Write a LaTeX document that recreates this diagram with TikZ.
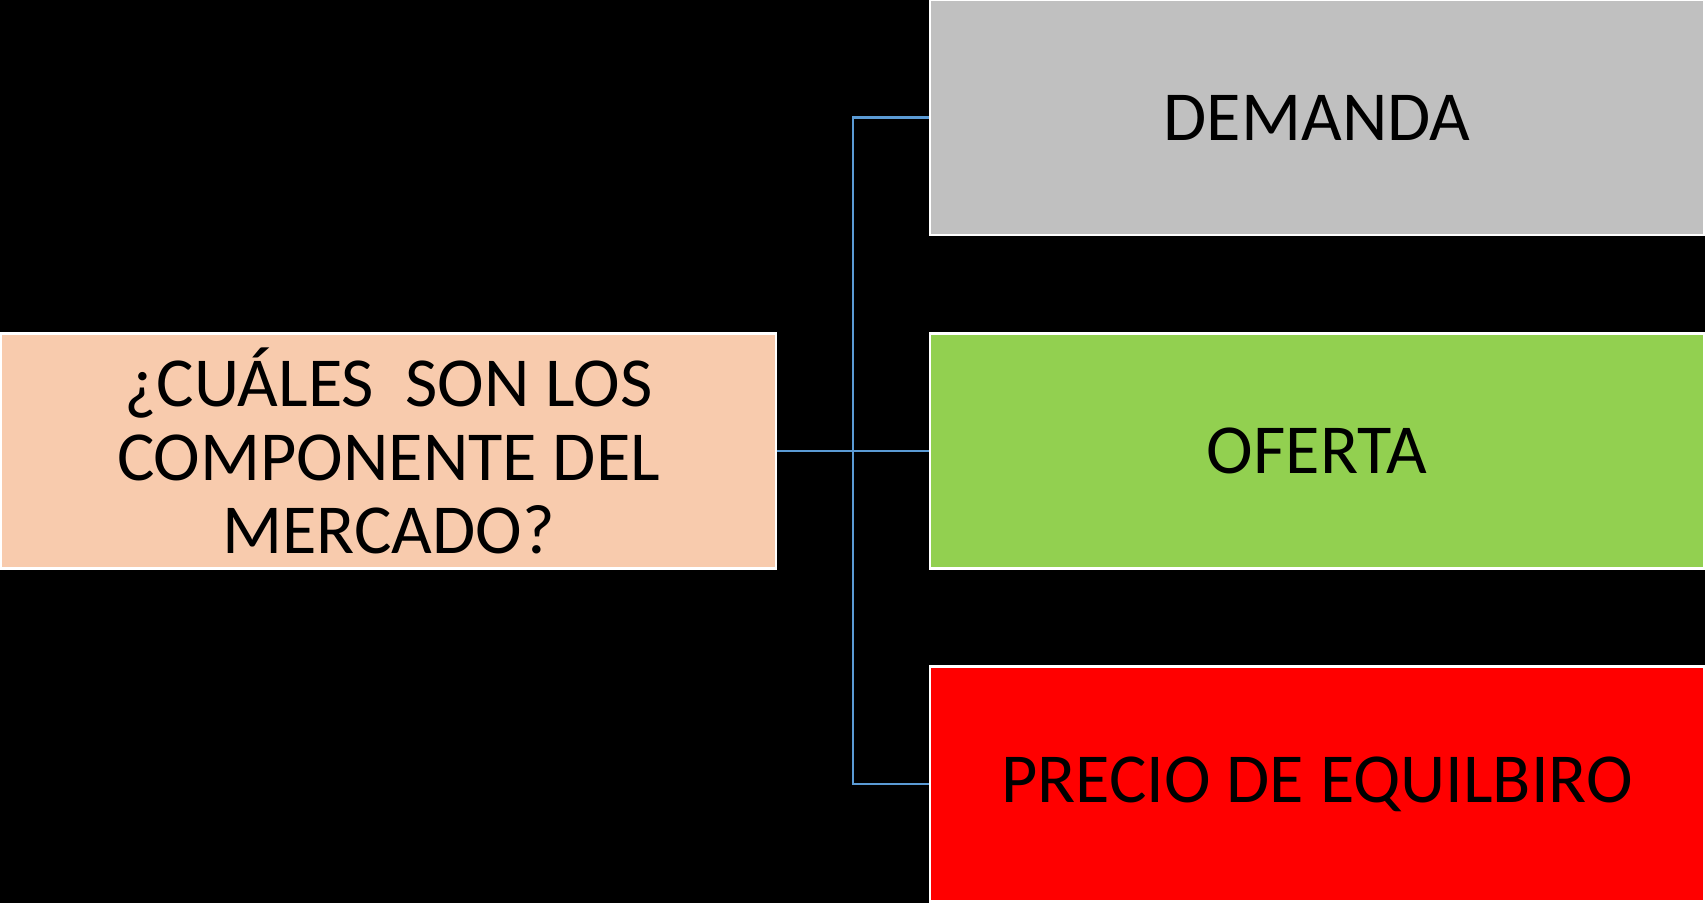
\documentclass[tikz,border=0pt]{standalone}
\usepackage{fontspec}
\setmainfont{Carlito}
\usetikzlibrary{calc}
\usepackage{xcolor}
\definecolor{QuestionColor}{HTML}{F8CBAD}
\definecolor{DemandColor}{HTML}{C0C0C0}
\definecolor{SupplyColor}{HTML}{92D050}
\definecolor{PriceColor}{HTML}{FF0000}
\definecolor{LinkColor}{HTML}{5B9BD5}
\newcommand{\XLeft}{388.5}
\newcommand{\XRight}{1317}
\newcommand{\XSpine}{853}
\newcommand{\BoxWidth}{15.5cm}
\newcommand{\BoxHeight}{4.7cm}

\begin{document}
\begin{tikzpicture}[
  x=0.02cm, y=-0.02cm,
  box/.style={rectangle,draw=white,line width=1.2pt,minimum width=\BoxWidth,
    minimum height=\BoxHeight,inner sep=0pt,font=\fontsize{40}{42}\selectfont,
    align=center,text=black},
  link/.style={draw=LinkColor,line width=1.3pt}
]

% Background
\fill[black] (0,0) rectangle (1705,903);
\useasboundingbox (0,0) rectangle (1705,903);

% Boxes
\node[box,fill=QuestionColor] (question) at (\XLeft,451)
  {¿CUÁLES\ \ SON LOS\\COMPONENTE DEL\\MERCADO?};
\node[box,fill=DemandColor] (demand) at (\XRight,117.5) {DEMANDA};
\node[box,fill=SupplyColor] (supply) at (\XRight,451) {OFERTA};
\node[box,fill=PriceColor] (price) at (\XRight,784) {PRECIO DE EQUILBIRO};

% Connections
\coordinate (hub) at (\XSpine,451);
\draw[link] (question.east) -- (hub);
\foreach \n in {demand,supply,price}{%
  \draw[link] (hub) |- (\n.west);
}

\end{tikzpicture}
\end{document}
